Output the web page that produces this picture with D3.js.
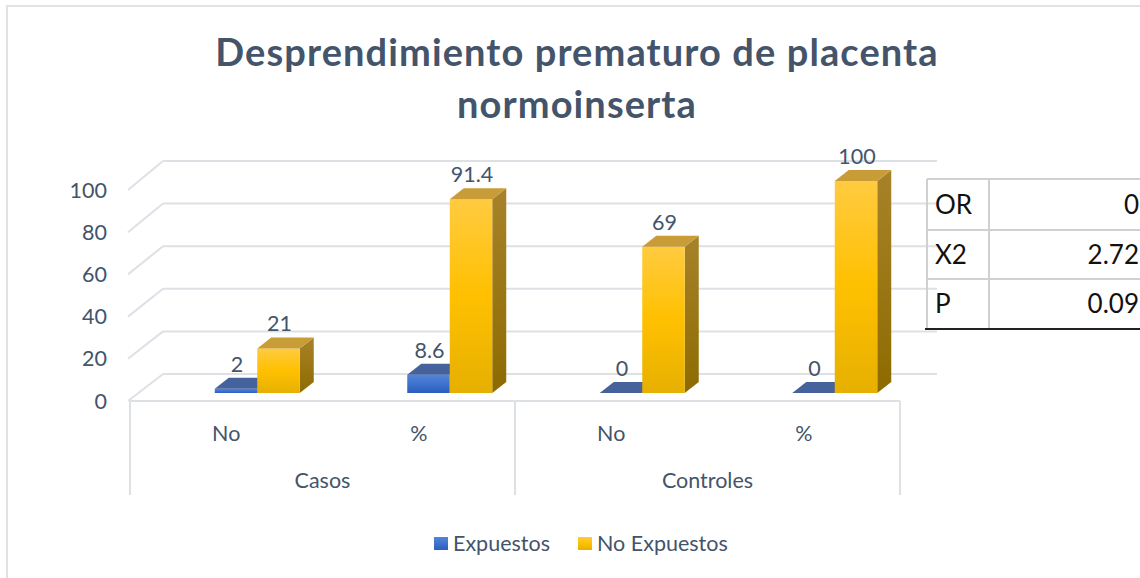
<!DOCTYPE html>
<html>
<head>
<meta charset="utf-8">
<script src="https://cdn.jsdelivr.net/npm/d3@7"></script>
<style>
  body { margin: 0; background: #fff; }
  text { font-family: Lato, "Open Sans", sans-serif; }
</style>
</head>
<body>
<div id="chart"></div>
<script>
// donnees
const groupes = ["Casos", "Controles"];
const categories = ["No", "%", "No", "%"];
const series = ["Expuestos", "No Expuestos"];
const expuestos = [2, 8.6, 0, 0];
const noExpuestos = [21, 91.4, 69, 100];
const ticks = [0, 20, 40, 60, 80, 100];
const tablaLabels = ["OR", "X2", "P"];
const tablaValores = ["0", "2.72", "0.09"];

const width = 1140, height = 578;
const textColor = "#44546A";
const gridColor = "#dde1e6";
const fs = 21.5;

const svg = d3.select("#chart").append("svg")
  .attr("width", width)
  .attr("height", height);

svg.append("rect").attr("width", width).attr("height", height).attr("fill", "#fff");

// bordure du graphique
svg.append("path")
  .attr("d", `M7,${height} V6 H${width}`)
  .attr("fill", "none")
  .attr("stroke", "#dfe2e7")
  .attr("stroke-width", 2);

// titre
const title = svg.append("text")
  .attr("text-anchor", "middle")
  .attr("fill", textColor)
  .attr("font-weight", "bold")
  .attr("font-size", 38)
  .attr("letter-spacing", 1.1);
title.append("tspan").attr("x", 577).attr("y", 66).text("Desprendimiento prematuro de placenta");
title.append("tspan").attr("x", 577).attr("y", 118).text("normoinserta");

// echelles
const x = d3.scaleBand().domain(d3.range(categories.length)).range([130, 900]);
const yFront = d3.scaleLinear().domain([0, 100]).range([401, 190]);
const yBack = d3.scaleLinear().domain([0, 100]).range([374, 161]);
const yBar = d3.scaleLinear().domain([0, 100]).range([393, 181]);
const xSerie = d3.scaleBand().domain(series).range([0, 85]);
const depthX = 33, barDx = 14, barDy = -11, barShift = 31 - 42.5;

// mur du fond + mur gauche
const grid = svg.append("g").attr("stroke", gridColor).attr("stroke-width", 2).attr("fill", "none");
ticks.forEach(t => {
  grid.append("line")
    .attr("x1", 130 + depthX).attr("x2", 937)
    .attr("y1", yBack(t)).attr("y2", yBack(t));
  grid.append("line")
    .attr("x1", 128).attr("x2", 130 + depthX)
    .attr("y1", yFront(t)).attr("y2", yBack(t));
});
// sol et axe des categories
grid.append("line").attr("x1", 130).attr("x2", 900).attr("y1", 401).attr("y2", 401);
[130, 515, 900].forEach(xx => {
  grid.append("line").attr("x1", xx).attr("x2", xx).attr("y1", 401).attr("y2", 495);
});

// labels axe y
svg.append("g").selectAll("text")
  .data(ticks)
  .enter().append("text")
  .attr("x", 107)
  .attr("y", d => yFront(d))
  .attr("dy", "0.35em")
  .attr("text-anchor", "end")
  .attr("font-size", fs)
  .attr("fill", textColor)
  .text(d => d);

// labels categories
svg.append("g").selectAll("text")
  .data(categories)
  .enter().append("text")
  .attr("x", (d, i) => x(i) + x.bandwidth() / 2)
  .attr("y", 441)
  .attr("text-anchor", "middle")
  .attr("font-size", fs)
  .attr("fill", textColor)
  .text(d => d);

svg.append("g").selectAll("text")
  .data(groupes)
  .enter().append("text")
  .attr("x", (d, i) => x(i * 2) + x.bandwidth())
  .attr("y", 488)
  .attr("text-anchor", "middle")
  .attr("font-size", fs)
  .attr("fill", textColor)
  .text(d => d);

// degrades
const defs = svg.append("defs");
function grad(id, stops) {
  const g = defs.append("linearGradient").attr("id", id)
    .attr("x1", 0).attr("y1", 0).attr("x2", 0).attr("y2", 1);
  stops.forEach(s => g.append("stop").attr("offset", s[0]).attr("stop-color", s[1]));
}
grad("blueFront", [[0, "#5286da"], [1, "#2b5ebf"]]);
grad("blueSide", [[0, "#35589a"], [1, "#24457f"]]);
grad("yellowFront", [[0, "#ffcb40"], [0.5, "#ffc000"], [1, "#e6b000"]]);
grad("yellowSide", [[0, "#a8822a"], [1, "#8d6b00"]]);

const styles = {
  "Expuestos": { front: "url(#blueFront)", side: "url(#blueSide)", top: "#46629c" },
  "No Expuestos": { front: "url(#yellowFront)", side: "url(#yellowSide)", top: "#c89c36" }
};

// barres 3D
const bars = svg.append("g");
const valores = { "Expuestos": expuestos, "No Expuestos": noExpuestos };
categories.forEach((c, i) => {
  series.forEach(s => {
    const v = valores[s][i];
    const x0 = x(i) + x.bandwidth() / 2 + barShift + xSerie(s);
    const w = xSerie.bandwidth();
    const y0 = yBar(0), y1 = yBar(v);
    const st = styles[s];
    const g = bars.append("g");
    g.append("path")
      .attr("d", `M${x0 + w},${y1} L${x0 + w + barDx},${y1 + barDy} L${x0 + w + barDx},${y0 + barDy} L${x0 + w},${y0} Z`)
      .attr("fill", st.side);
    if (v > 0) {
      g.append("rect")
        .attr("x", x0).attr("y", y1)
        .attr("width", w).attr("height", y0 - y1)
        .attr("fill", st.front);
    }
    g.append("path")
      .attr("d", `M${x0},${y1} L${x0 + barDx},${y1 + barDy} L${x0 + w + barDx},${y1 + barDy} L${x0 + w},${y1} Z`)
      .attr("fill", st.top);
    g.append("text")
      .attr("x", x0 + w / 2 + 1)
      .attr("y", y1 + barDy - 6)
      .attr("text-anchor", "middle")
      .attr("font-size", fs)
      .attr("fill", textColor)
      .text(v);
  });
});

// tableau OR / X2 / P
const rows = [179, 230, 279, 329];
const tab = svg.append("g");
tab.append("line").attr("x1", 927).attr("x2", 927).attr("y1", rows[0]).attr("y2", rows[3]).attr("stroke", "#d0d0d0").attr("stroke-width", 2);
tab.append("line").attr("x1", 989).attr("x2", 989).attr("y1", rows[0]).attr("y2", rows[3]).attr("stroke", "#d0d0d0").attr("stroke-width", 2);
rows.slice(0, 3).forEach(r => {
  tab.append("line").attr("x1", 927).attr("x2", width).attr("y1", r).attr("y2", r).attr("stroke", "#d0d0d0").attr("stroke-width", 2);
});
tab.append("line").attr("x1", 925).attr("x2", width).attr("y1", rows[3]).attr("y2", rows[3]).attr("stroke", "#222").attr("stroke-width", 2);
tablaLabels.forEach((l, i) => {
  const cy = (rows[i] + rows[i + 1]) / 2;
  tab.append("text").attr("x", 935).attr("y", cy).attr("dy", "0.36em")
    .attr("font-size", 26).attr("fill", "#111").text(l);
  tab.append("text").attr("x", 1139).attr("y", cy).attr("dy", "0.36em")
    .attr("text-anchor", "end")
    .attr("font-size", 26).attr("fill", "#111").text(tablaValores[i]);
});

// legende
const legend = svg.append("g");
const legX = [434, 578];
series.forEach((s, i) => {
  legend.append("rect")
    .attr("x", legX[i]).attr("y", 537)
    .attr("width", 14).attr("height", 13)
    .attr("fill", i === 0 ? "url(#blueFront)" : "url(#yellowFront)");
  legend.append("text")
    .attr("x", legX[i] + 19).attr("y", 551)
    .attr("font-size", fs)
    .attr("fill", textColor)
    .text(s);
});
</script>
</body>
</html>
